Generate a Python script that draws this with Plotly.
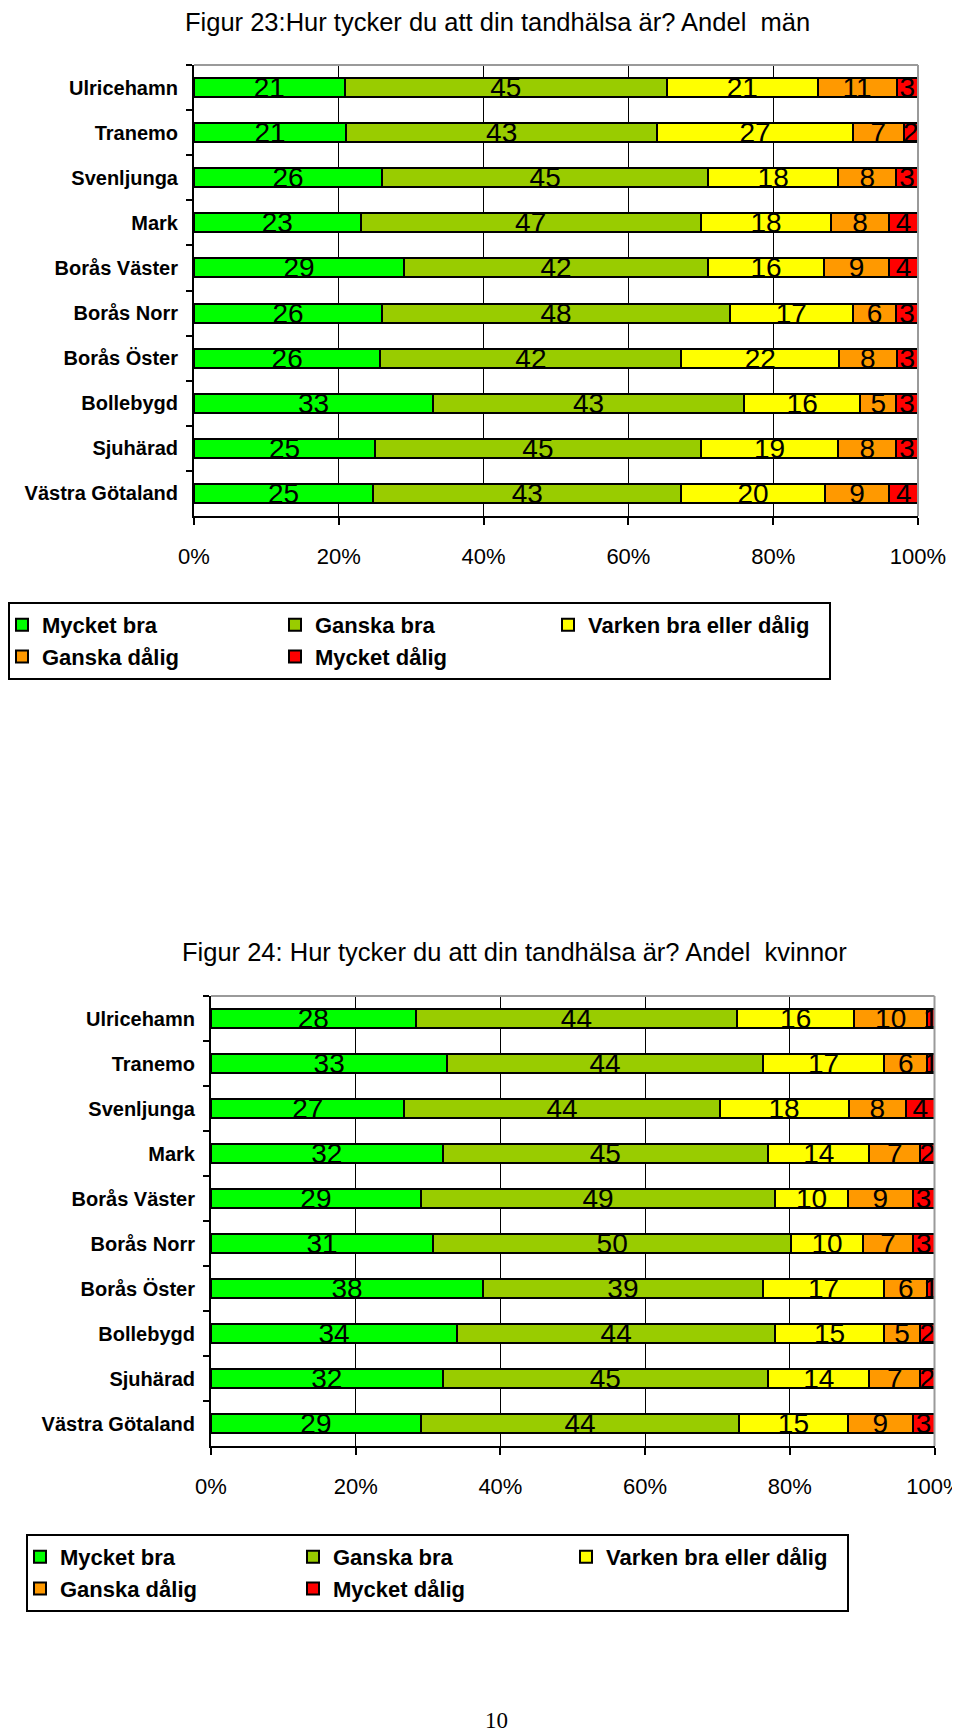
import plotly.graph_objects as go

# ---------------- data ----------------
categories = ["Ulricehamn", "Tranemo", "Svenljunga", "Mark", "Borås Väster",
              "Borås Norr", "Borås Öster", "Bollebygd", "Sjuhärad", "Västra Götaland"]
series_names = ["Mycket bra", "Ganska bra", "Varken bra eller dålig", "Ganska dålig", "Mycket dålig"]

men_mycket_bra = [21, 21, 26, 23, 29, 26, 26, 33, 25, 25]
men_ganska_bra = [45, 43, 45, 47, 42, 48, 42, 43, 45, 43]
men_varken = [21, 27, 18, 18, 16, 17, 22, 16, 19, 20]
men_ganska_dalig = [11, 7, 8, 8, 9, 6, 8, 5, 8, 9]
men_mycket_dalig = [3, 2, 3, 4, 4, 3, 3, 3, 3, 4]

women_mycket_bra = [28, 33, 27, 32, 29, 31, 38, 34, 32, 29]
women_ganska_bra = [44, 44, 44, 45, 49, 50, 39, 44, 45, 44]
women_varken = [16, 17, 18, 14, 10, 10, 17, 15, 14, 15]
women_ganska_dalig = [10, 6, 8, 7, 9, 7, 6, 5, 7, 9]
women_mycket_dalig = [1, 1, 4, 2, 3, 3, 1, 2, 2, 3]

x_tick_values = [0, 20, 40, 60, 80, 100]
x_tick_labels = ["0%", "20%", "40%", "60%", "80%", "100%"]

title_men = "Figur 23:Hur tycker du att din tandhälsa är? Andel  män"
title_women = "Figur 24: Hur tycker du att din tandhälsa är? Andel  kvinnor"
page_number = "10"

# ---------------- styles ----------------
colors = ["#00FF00", "#99CC00", "#FFFF00", "#FF9900", "#FF0000"]
FONT = "Liberation Sans, Arial, Helvetica, sans-serif"
W, H = 960, 1733


def px_x(v):
    return v / W


def px_y(v):
    return 1 - v / H


fig = go.Figure()

men_series = [men_mycket_bra, men_ganska_bra, men_varken, men_ganska_dalig, men_mycket_dalig]
women_series = [women_mycket_bra, women_ganska_bra, women_varken, women_ganska_dalig, women_mycket_dalig]

for (series, xa, ya, lg) in [(men_series, "x", "y", "legend"), (women_series, "x2", "y2", "legend2")]:
    for name, vals, col in zip(series_names, series, colors):
        fig.add_trace(go.Bar(
            y=categories, x=vals, orientation="h", name=name,
            marker=dict(color=col, line=dict(color="black", width=2)),
            text=vals, texttemplate="%{text}", textposition="inside",
            insidetextanchor="middle", textangle=0, constraintext="none",
            textfont=dict(family=FONT, size=28, color="black"),
            xaxis=xa, yaxis=ya, legend=lg, hoverinfo="skip",
        ))


def xaxis_cfg(domain, anchor):
    return dict(
        domain=domain, anchor=anchor, range=[0, 100], automargin=False,
        tickmode="array", tickvals=x_tick_values, ticktext=x_tick_labels,
        showgrid=True, gridcolor="black", gridwidth=1, zeroline=False,
        showline=True, linecolor="black", linewidth=2,
        ticks="outside", ticklen=7, tickwidth=2, tickcolor="black",
        tickfont=dict(family=FONT, size=22, color="black"),
        ticklabelstandoff=13, fixedrange=True,
    )


def yaxis_cfg(domain, anchor):
    return dict(
        domain=domain, anchor=anchor, type="category", automargin=False,
        categoryorder="array", categoryarray=categories, autorange="reversed",
        showgrid=False, zeroline=False,
        showline=True, linecolor="black", linewidth=2,
        ticks="outside", tickson="boundaries", ticklen=6, tickwidth=2, tickcolor="black",
        tickfont=dict(family=FONT, size=20, color="black", weight="bold"),
        ticklabelstandoff=10, fixedrange=True,
    )


def legend_cfg(x_left, y_top):
    return dict(
        x=px_x(x_left), y=px_y(y_top), xanchor="left", yanchor="top",
        orientation="h", bordercolor="black", borderwidth=2, bgcolor="white",
        font=dict(family=FONT, size=22, color="black", weight="bold"),
        entrywidth=236, indentation=-8, traceorder="normal",
        itemclick=False, itemdoubleclick=False,
    )


def border_shapes(xref, yref):
    return [
        dict(type="line", xref=xref, yref=yref, x0=0, x1=1, y0=1, y1=1,
             line=dict(color="#9A9A9A", width=2), layer="above"),
        dict(type="line", xref=xref, yref=yref, x0=1, x1=1, y0=0, y1=1,
             line=dict(color="#9A9A9A", width=2), layer="above"),
    ]


fig.update_layout(
    width=W, height=H, margin=dict(l=0, r=0, t=0, b=0, autoexpand=False),
    paper_bgcolor="white", plot_bgcolor="white",
    barmode="stack", barnorm="percent", bargap=0.58,
    font=dict(family=FONT, color="black"),
    xaxis=xaxis_cfg([px_x(186), px_x(910)], "y"),
    yaxis=yaxis_cfg([px_y(508), px_y(57)], "x"),
    xaxis2=xaxis_cfg([px_x(203), px_x(926.5)], "y2"),
    yaxis2=yaxis_cfg([px_y(1438), px_y(988)], "x2"),
    legend=legend_cfg(0, 594),
    legend2=legend_cfg(18, 1526),
    shapes=border_shapes("x domain", "y domain") + border_shapes("x2 domain", "y2 domain"),
    annotations=[
        dict(text=title_men, x=px_x(490), y=px_y(14), xref="paper", yref="paper",
             xanchor="center", yanchor="middle", showarrow=False,
             font=dict(family=FONT, size=25.5, color="black")),
        dict(text=title_women, x=px_x(506), y=px_y(944), xref="paper", yref="paper",
             xanchor="center", yanchor="middle", showarrow=False,
             font=dict(family=FONT, size=25.5, color="black")),
        dict(text=page_number, x=px_x(488), y=px_y(1712), xref="paper", yref="paper",
             xanchor="center", yanchor="middle", showarrow=False,
             font=dict(family="Liberation Serif, Times New Roman, serif", size=23, color="black")),
    ],
)

fig.write_html("out.html")
